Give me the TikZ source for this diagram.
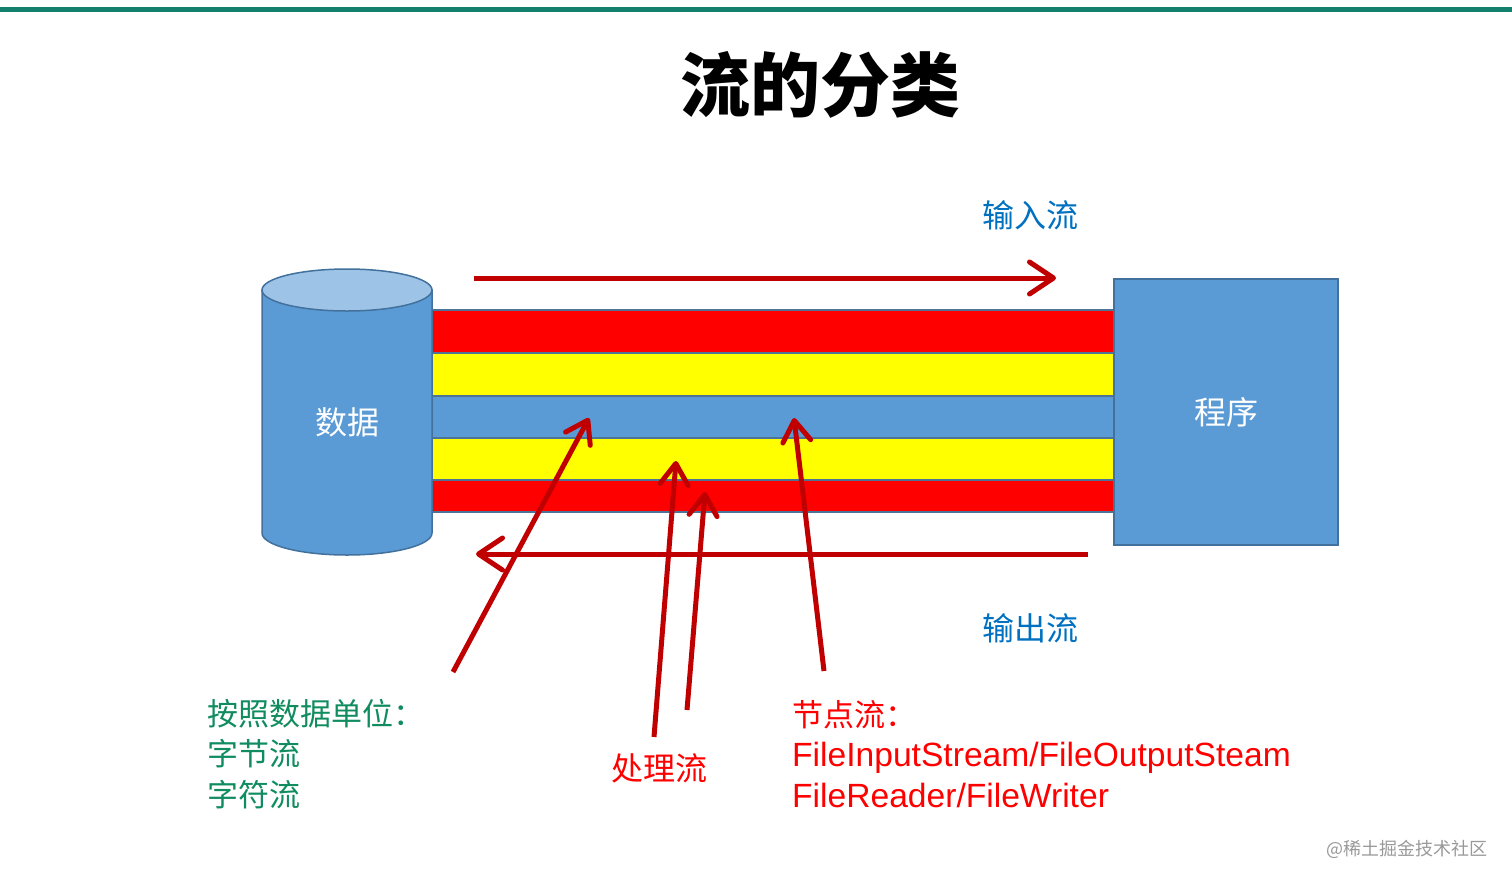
\documentclass[tikz,border=0pt]{standalone}
\usepackage{fontspec}
\setmainfont{Liberation Sans}
\newfontfamily\cjk{Noto Sans CJK SC}
\usetikzlibrary{arrows.meta}
\definecolor{rulegreen}{RGB}{19,128,110}
\definecolor{streamblue}{RGB}{91,155,213}
\definecolor{cylcap}{RGB}{157,195,230}
\definecolor{edgeblue}{RGB}{65,113,156}
\definecolor{stripered}{RGB}{255,0,0}
\definecolor{stripeyellow}{RGB}{255,255,0}
\definecolor{arrowred}{RGB}{192,0,0}
\definecolor{labelblue}{RGB}{0,112,192}
\definecolor{labelgreen}{RGB}{16,140,96}
\begin{document}
\begin{tikzpicture}[x=1pt, y=-1pt,
    stripe/.style={draw=edgeblue!80!gray, line width=1.5pt},
    flowarrow/.style={draw=arrowred, line width=5pt,
        -{Straight Barb[length=24pt,width=32pt,line width=5pt,line cap=round,line join=round]}},
    pointer/.style={draw=arrowred, line width=5pt,
        -{Straight Barb[length=21pt,width=28pt,line width=5pt,line cap=round,line join=round]}},
    innertext/.style={text=white, font=\cjk\fontsize{32}{36}\selectfont, inner sep=0pt},
    bluelabel/.style={text=labelblue, font=\cjk\fontsize{32}{36}\selectfont, inner sep=0pt}]
    \useasboundingbox (0,0) rectangle (1512,884);

    % top rule
    \draw[rulegreen, line width=5pt] (0,9) -- (1512,9);

    % title
    \node[font=\cjk\bfseries\fontsize{70}{80}\selectfont, inner sep=0pt] (title) at (820,85) {流的分类};

    % pipe stripes
    \foreach \ya/\yb/\col in {310/353/stripered, 353/396/stripeyellow, 396/438/streamblue,
                              438/480/stripeyellow, 480/512/stripered}
        \draw[stripe, fill=\col] (432,\ya) rectangle (1115,\yb);

    % data store
    \filldraw[fill=streamblue, draw=edgeblue, line width=1.5pt]
        (262,290) -- (262,533) arc[start angle=180, end angle=0, x radius=85, y radius=22] -- (432,290) -- cycle;
    \filldraw[fill=cylcap, draw=edgeblue, line width=1.5pt] (347,290) ellipse[x radius=85, y radius=21];
    \node[innertext] (data) at (347,422) {数据};

    % program
    \node[draw=edgeblue, line width=1.5pt, fill=streamblue, minimum width=224pt, minimum height=266pt,
          innertext] (prog) at (1226,412) {程序};

    % input / output
    \coordinate (inS) at (474,278);
    \coordinate (inE) at (1056,278);
    \coordinate (outS) at (1088,554);
    \coordinate (outE) at (476,554);
    \draw[flowarrow] (inS) -- (inE);
    \draw[flowarrow] (outS) -- (outE);
    \node[bluelabel] (inlbl) at (1030,215) {输入流};
    \node[bluelabel] (outlbl) at (1030,628) {输出流};

    % pointers
    \coordinate (unitT) at (453,672);
    \coordinate (unitH) at (589,418);
    \coordinate (procAT) at (654,737);
    \coordinate (procAH) at (676,461);
    \coordinate (procBT) at (687,710);
    \coordinate (procBH) at (705,492);
    \coordinate (nodeT) at (824,671);
    \coordinate (nodeH) at (794,418);
    \draw[pointer] (unitT) -- (unitH);
    \draw[pointer] (procAT) -- (procAH);
    \draw[pointer] (procBT) -- (procBH);
    \draw[pointer] (nodeT) -- (nodeH);

    % labels
    \node[anchor=west, align=left, inner sep=0pt, text=labelgreen,
          font=\cjk\fontsize{31}{40.5}\selectfont] (unitlbl) at (207,754)
        {按照数据单位：\\字节流\\字符流};
    \node[text=stripered, inner sep=0pt, font=\cjk\fontsize{32}{36}\selectfont] (proclbl) at (659,768) {处理流};
    \node[anchor=west, align=left, inner sep=0pt, text=stripered,
          font=\fontsize{33.6}{40.5}\selectfont] (nodelbl) at (792,754)
        {{\cjk\fontsize{31}{40.5}\selectfont 节点流：}\\FileInputStream/FileOutputSteam\\FileReader/FileWriter};

    % watermark
    \node[text=gray!80, inner sep=0pt, font=\cjk\fontsize{18}{20}\selectfont] (mark) at (1407,849) {@稀土掘金技术社区};
\end{tikzpicture}
\end{document}
